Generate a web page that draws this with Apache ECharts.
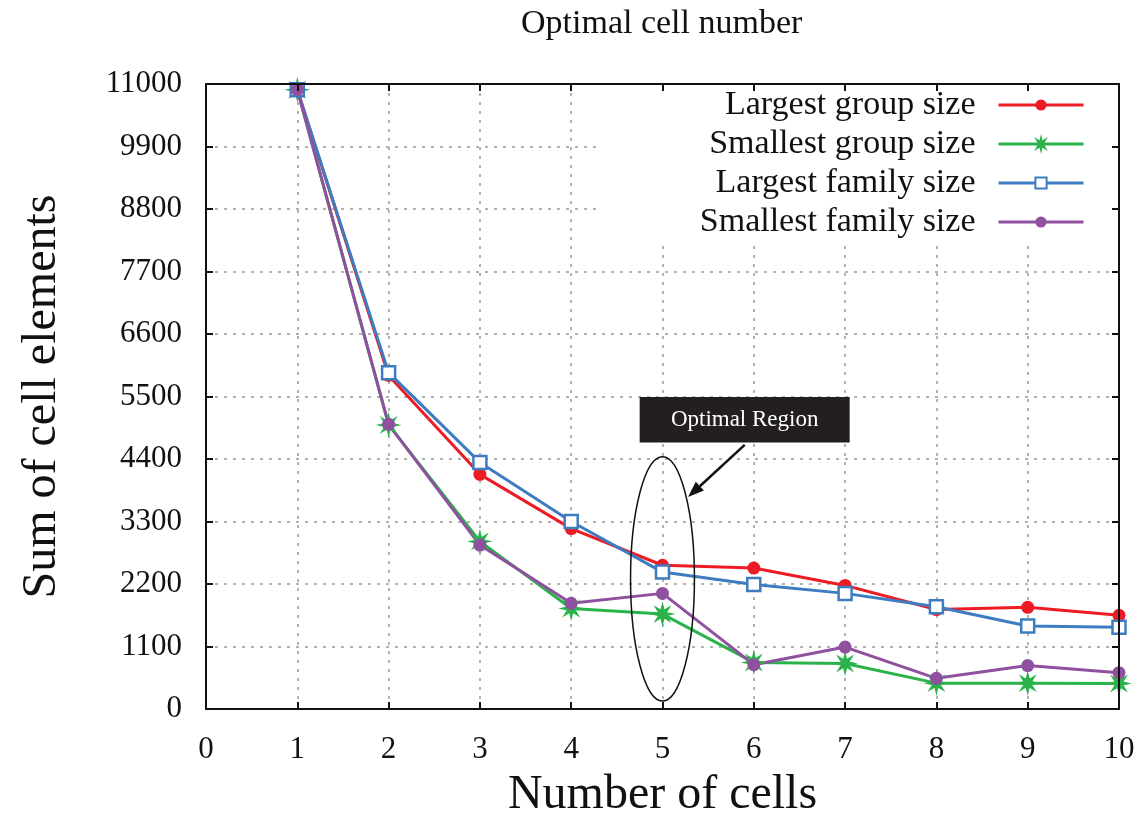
<!DOCTYPE html>
<html>
<head>
<meta charset="utf-8">
<script src="https://cdn.jsdelivr.net/npm/echarts@6/dist/echarts.min.js"></script>
<style>
  html, body { margin: 0; padding: 0; background: #fff; }
  #chart { width: 1147px; height: 824px; }
</style>
</head>
<body>
<div id="chart"></div>
<script>
// data
const cells = [1, 2, 3, 4, 5, 6, 7, 8, 9, 10]
const largestGroup = [10900, 5870, 4130, 3175, 2530, 2480, 2175, 1750, 1790, 1650]
const smallestGroup = [10900, 5000, 2950, 1770, 1670, 820, 800, 455, 455, 450]
const largestFamily = [10900, 5920, 4340, 3300, 2410, 2190, 2035, 1800, 1460, 1440]
const smallestFamily = [10900, 5010, 2885, 1860, 2035, 780, 1090, 540, 765, 640]
const names = ['Largest group size', 'Smallest group size', 'Largest family size', 'Smallest family size']
const yStep = 1100
const yMax = 11000

const serif = '"Liberation Serif", "Times New Roman", serif'
const colors = ['#ed1c24', '#2bb34b', '#3e7cc2', '#9050a0']
// asterisk-like mark for the green series
const star = 'path://M20,10L13.7,11.5L17.07,17.07L11.5,13.7L10,20L8.5,13.7L2.93,17.07L6.3,11.5L0,10L6.3,8.5L2.93,2.93L8.5,6.3L10,0L11.5,6.3L17.07,2.93L13.7,8.5Z'

const pairs = vals => cells.map((c, i) => [c, vals[i]])

function lineSeries(name, vals, color, symbol, size, fill, border) {
  return {
    name: name,
    type: 'line',
    data: pairs(vals),
    symbol: symbol,
    symbolSize: size,
    showAllSymbol: true,
    lineStyle: { color: color, width: 3 },
    itemStyle: { color: fill, borderColor: color, borderWidth: border },
    emphasis: { disabled: true },
    z: 3,
  }
}

const tickStyle = { inside: true, length: 7, lineStyle: { color: '#111', width: 2 } }
const frameLine = { show: true, onZero: false, lineStyle: { color: '#111', width: 2 } }
const dotted = { show: true, lineStyle: { color: '#999', width: 1.5, type: [3, 6] } }

const chart = echarts.init(document.getElementById('chart'))

const option = {
  animation: false,
  textStyle: { fontFamily: serif },
  title: {
    text: 'Optimal cell number',
    left: 516,
    top: 2,
    textStyle: { fontFamily: serif, fontWeight: 'normal', fontSize: 34, color: '#111' },
  },
  grid: { left: 206, right: 28, top: 84, bottom: 106 },
  legend: {
    orient: 'vertical',
    align: 'right',
    right: 31,
    top: 86,
    padding: [2, 31, 2, 99],
    backgroundColor: '#fff',
    itemGap: 5,
    itemWidth: 85,
    itemHeight: 14,
    z: 1,
    data: names,
    lineStyle: { width: 3 },
    textStyle: { fontFamily: serif, fontSize: 34, color: '#111', padding: [0, 18, 0, 0] },
  },
  xAxis: [
    {
      type: 'value',
      min: 0,
      max: 10,
      interval: 1,
      name: 'Number of cells',
      nameLocation: 'middle',
      nameGap: 62,
      nameTextStyle: { fontFamily: serif, fontSize: 48, color: '#111' },
      axisLine: frameLine,
      axisTick: tickStyle,
      axisLabel: { fontFamily: serif, fontSize: 31, color: '#111', margin: 25 },
      splitLine: dotted,
    },
    {
      type: 'value',
      position: 'top',
      min: 0,
      max: 10,
      interval: 1,
      z: 6,
      axisLine: frameLine,
      axisTick: tickStyle,
      axisLabel: { show: false },
      splitLine: { show: false },
    },
  ],
  yAxis: [
    {
      type: 'value',
      min: 0,
      max: yMax,
      interval: yStep,
      name: 'Sum of cell elements',
      nameLocation: 'middle',
      nameGap: 140,
      nameTextStyle: { fontFamily: serif, fontSize: 48, color: '#111' },
      axisLine: frameLine,
      axisTick: Object.assign({ show: true }, tickStyle),
      axisLabel: { fontFamily: serif, fontSize: 31, color: '#111', margin: 24, formatter: v => String(v) },
      splitLine: dotted,
    },
    {
      type: 'value',
      position: 'right',
      min: 0,
      max: yMax,
      interval: yStep,
      z: 6,
      axisLine: frameLine,
      axisTick: Object.assign({ show: true }, tickStyle),
      axisLabel: { show: false },
      splitLine: { show: false },
    },
  ],
  series: [
    lineSeries(names[0], largestGroup, colors[0], 'circle', 13, colors[0], 0),
    lineSeries(names[1], smallestGroup, colors[1], star, 17, colors[1], 2),
    lineSeries(names[2], largestFamily, colors[2], 'rect', 13, '#fff', 2.5),
    lineSeries(names[3], smallestFamily, colors[3], 'circle', 13, colors[3], 0),
  ],
}

chart.setOption(option)

// annotation: ellipse round x = 5, label box and arrow, placed in data space
const px = v => chart.convertToPixel({ xAxisIndex: 0, yAxisIndex: 0 }, v)
const ellC = px([5, 2290])
const ellTop = px([5, 4440])
const ellSide = px([5.35, 2290])
const boxA = px([4.75, 5490])
const boxB = px([7.05, 4690])
const arrFrom = px([5.9, 4650])
const arrTo = px([5.28, 3730])

const dx = arrTo[0] - arrFrom[0]
const dy = arrTo[1] - arrFrom[1]
const len = Math.sqrt(dx * dx + dy * dy)
const ux = dx / len
const uy = dy / len
const headL = 16
const headW = 6
const baseX = arrTo[0] - ux * headL
const baseY = arrTo[1] - uy * headL

chart.setOption({
  graphic: [
    {
      type: 'ellipse',
      shape: { cx: ellC[0], cy: ellC[1], rx: ellSide[0] - ellC[0], ry: ellC[1] - ellTop[1] },
      style: { fill: 'none', stroke: '#111', lineWidth: 1.5 },
      z: 10,
    },
    {
      type: 'rect',
      shape: { x: boxA[0], y: boxA[1], width: boxB[0] - boxA[0], height: boxB[1] - boxA[1] },
      style: { fill: '#231f20' },
      z: 10,
    },
    {
      type: 'text',
      x: (boxA[0] + boxB[0]) / 2,
      y: (boxA[1] + boxB[1]) / 2,
      style: {
        text: 'Optimal Region',
        fill: '#fff',
        font: '23px "Liberation Serif"',
        align: 'center',
        verticalAlign: 'middle',
      },
      z: 11,
    },
    {
      type: 'line',
      shape: { x1: arrFrom[0], y1: arrFrom[1], x2: baseX, y2: baseY },
      style: { stroke: '#111', lineWidth: 2.5 },
      z: 10,
    },
    {
      type: 'polygon',
      shape: {
        points: [
          [arrTo[0], arrTo[1]],
          [baseX - uy * headW, baseY + ux * headW],
          [baseX + uy * headW, baseY - ux * headW],
        ],
      },
      style: { fill: '#111' },
      z: 10,
    },
  ],
})
</script>
</body>
</html>
